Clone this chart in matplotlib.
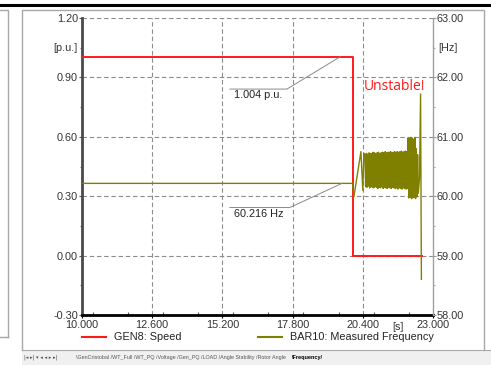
import numpy as np
import matplotlib
matplotlib.use("Agg")
import matplotlib.pyplot as plt
from matplotlib.lines import Line2D
from matplotlib.patches import Rectangle
from matplotlib.ticker import FormatStrFormatter, MultipleLocator
import matplotlib.transforms as mtransforms

plt.rcParams['font.family'] = ['Liberation Sans', 'DejaVu Sans']

# ---- data -------------------------------------------------------------
# GEN8 speed [p.u.]
speed_t = [10.0, 20.04, 20.04, 22.58]
speed_pu = [1.004, 1.004, 0.0, 0.0]

# BAR10 measured frequency [Hz]: steady part and first swing
freq_t_pre = [10.0, 20.02, 20.07, 20.33, 20.40, 20.44]
freq_pre = [60.216, 60.216, 59.99, 60.75, 60.10, 60.72]

# fast oscillation: successive maxima / minima
osc_peaks = [60.70, 60.72, 60.71, 60.73, 60.72, 60.72, 60.74, 60.73,
             60.72, 60.73, 60.74, 60.72, 60.73, 60.74, 60.73, 60.75,
             60.73, 60.74, 60.74, 60.75, 60.73, 60.74, 60.75, 60.74,
             60.75, 60.74, 60.75, 60.76, 60.74, 60.75, 60.76, 60.75,
             60.98, 60.97, 60.99, 60.98, 60.96, 60.99, 60.80, 60.70]
osc_troughs = [60.16, 60.15, 60.17, 60.14, 60.16, 60.15, 60.14, 60.16,
               60.15, 60.13, 60.15, 60.14, 60.16, 60.13, 60.15, 60.14,
               60.13, 60.15, 60.14, 60.13, 60.15, 60.14, 60.13, 60.14,
               60.12, 60.14, 60.13, 60.12, 60.14, 60.13, 60.12, 60.13,
               59.97, 59.98, 59.96, 59.97, 59.98, 59.96, 59.99, 60.05]
osc_start = 20.48
osc_step = 0.025

# final excursion before the end of the run
freq_t_post = [22.50, 22.54, 22.57]
freq_post = [60.30, 61.72, 58.60]

x_ticks = [10.0, 12.6, 15.2, 17.8, 20.4, 23.0]
pu_ticks = [-0.30, 0.00, 0.30, 0.60, 0.90, 1.20]
hz_ticks = [58.0, 59.0, 60.0, 61.0, 62.0, 63.0]

speed_note_t = 19.56
freq_note_t = 19.63

# ---- assemble frequency trace ------------------------------------------
osc_vals = np.column_stack([osc_peaks, osc_troughs]).ravel()
osc_t = osc_start + osc_step * np.arange(len(osc_vals))
freq_t = np.concatenate([freq_t_pre, osc_t, freq_t_post])
freq_hz = np.concatenate([freq_pre, osc_vals, freq_post])

# ---- figure ------------------------------------------------------------
W, H = 491, 365
fig = plt.figure(figsize=(W / 100, H / 100), dpi=100)

def fx(px):
    return px / W

def fy(py):
    return 1 - py / H

# window frame
frame_col = '#a8a8a8'
fig.add_artist(Line2D([0, 1], [fy(5), fy(5)], color='black', lw=2.2))
fig.add_artist(Line2D([fx(22), fx(22), fx(484), fx(484)],
                      [fy(350), fy(10), fy(10), fy(350)], color=frame_col, lw=1))
fig.add_artist(Line2D([0, fx(8), fx(8)], [fy(10), fy(10), fy(337)], color=frame_col, lw=1))
fig.add_artist(Line2D([0, fx(8)], [fy(337), fy(337)], color=frame_col, lw=1))
fig.add_artist(Rectangle((fx(22), 0), fx(469), fy(350), color='#f0f0f0', lw=0))
fig.add_artist(Line2D([fx(22), 1], [fy(350), fy(350)], color=frame_col, lw=0.8))

# sheet tabs
fig.text(fx(24), fy(357), '|◂ ▸| ▾ ◂ ◂ ▸ ▸|', fontsize=3.8, color='#555555',
         va='center', family=['DejaVu Sans'])
fig.text(fx(76), fy(357),
         '\\GenCristobal /WT_Full /WT_PQ /Voltage /Gen_PQ /LOAD /Angle Stability /Rotor Angle',
         fontsize=3.9, color='#555555', va='center')
fig.text(fx(292), fy(357), '\\Frequency/', fontsize=4.0, color='black',
         va='center', fontweight='bold')

# plot axes
ax = fig.add_axes([fx(82), fy(315), fx(433) - fx(82), fy(18) - fy(315)])
ax.set_facecolor('white')
ax.set_xlim(10, 23)
ax.set_ylim(-0.30, 1.20)
ax2 = ax.twinx()
ax2.set_ylim(58, 63)

ax.plot(speed_t, speed_pu, color='#ff1a1a', lw=1.4, zorder=3)
ax2.plot(freq_t, freq_hz, color='#808000', lw=1.0, zorder=3)

# ticks and grid
tick_fs = 7.8
ax.set_xticks(x_ticks)
ax.xaxis.set_major_formatter(FormatStrFormatter('%.3f'))
ax.xaxis.set_minor_locator(MultipleLocator(1.3))
ax.set_yticks(pu_ticks)
ax.yaxis.set_major_formatter(FormatStrFormatter('%.2f'))
ax.yaxis.set_minor_locator(MultipleLocator(0.15))
ax2.set_yticks(hz_ticks)
ax2.yaxis.set_major_formatter(FormatStrFormatter('%.2f'))
ax2.yaxis.set_minor_locator(MultipleLocator(0.5))

ax.tick_params(axis='x', which='major', direction='out', length=2, width=0.8,
               pad=1.5, labelsize=tick_fs, colors='black', labelcolor='#333333')
ax.tick_params(axis='x', which='minor', direction='in', length=2.5, width=0.8,
               colors='#555555')
ax.tick_params(axis='y', which='major', direction='out', length=2.5, width=0.8,
               pad=0.5, labelsize=tick_fs, colors='#555555', labelcolor='#333333')
ax.tick_params(axis='y', which='minor', direction='out', length=1.5, width=0.8,
               colors='#777777')
ax2.tick_params(axis='y', which='major', direction='out', length=2.5, width=0.8,
                pad=0.3, labelsize=tick_fs, colors='#999999', labelcolor='#333333')
ax2.tick_params(axis='y', which='minor', direction='out', length=1.5, width=0.8,
                colors='#aaaaaa')

grid_kw = dict(color='#8c8c8c', lw=0.8, ls=(0, (4, 2.5)), zorder=1)
for v in pu_ticks[1:]:
    ax.axhline(v, **grid_kw)
for v in x_ticks[1:-1]:
    ax.axvline(v, **grid_kw)

for side in ('top', 'right'):
    ax.spines[side].set_visible(False)
ax.spines['left'].set_color('#4a4a4a')
ax.spines['left'].set_linewidth(2.0)
ax.spines['bottom'].set_color('black')
ax.spines['bottom'].set_linewidth(2.0)
for side in ('top', 'left', 'bottom'):
    ax2.spines[side].set_visible(False)
ax2.spines['right'].set_color('#a0a0a0')
ax2.spines['right'].set_linewidth(1.0)

# unit labels
ty = mtransforms.blended_transform_factory(ax.transAxes, ax.transData)
ax.text(-0.014, 1.05, '[p.u.]', transform=ty, ha='right', va='center',
        fontsize=tick_fs, color='#333333')
ty2 = mtransforms.blended_transform_factory(ax2.transAxes, ax2.transData)
ax2.text(1.014, 62.5, '[Hz]', transform=ty2, ha='left', va='center',
         fontsize=tick_fs, color='#333333')
tx = mtransforms.blended_transform_factory(ax.transData, ax.transAxes)
ax.text(21.7, -0.022, '[s]', transform=tx, ha='center', va='top',
        fontsize=tick_fs, color='#333333')

# value notes with leader lines
note_col = '#8a8a8a'
ax.plot([15.48, 17.59, speed_note_t], [0.841, 0.841, speed_pu[0]],
        color=note_col, lw=0.7, zorder=4)
ax.text(15.62, 0.835, f'{speed_pu[0]:.3f} p.u.', ha='left', va='top',
        fontsize=tick_fs, color='#222222', zorder=4)
ax2.plot([15.48, 17.70, freq_note_t], [59.81, 59.81, freq_pre[0]],
         color=note_col, lw=0.7, zorder=4)
ax2.text(15.62, 59.79, f'{freq_pre[0]:.3f} Hz', ha='left', va='top',
         fontsize=tick_fs, color='#222222', zorder=4)

ax2.text(20.42, 61.85, 'Unstable!', ha='left', va='center', fontsize=10,
         color='#ff1a1a', family=['Open Sans', 'DejaVu Sans'])

# legend
fig.add_artist(Line2D([fx(82), fx(106)], [fy(337), fy(337)], color='#ff1a1a', lw=1.5))
fig.text(fx(114), fy(337), 'GEN8: Speed', fontsize=tick_fs, va='center', color='#222222')
fig.add_artist(Line2D([fx(258), fx(282)], [fy(337), fy(337)], color='#808000', lw=1.5))
fig.text(fx(290), fy(337), 'BAR10: Measured Frequency', fontsize=tick_fs,
         va='center', color='#222222')

fig.savefig('out.png', dpi=100)
